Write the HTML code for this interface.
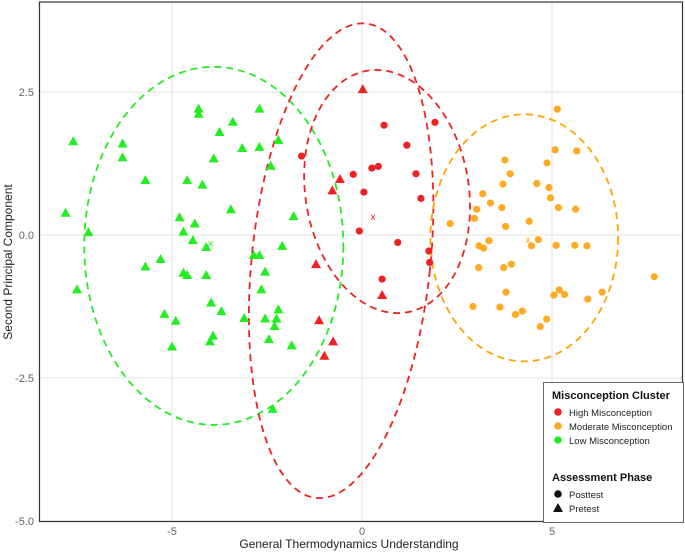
<!DOCTYPE html>
<html><head><meta charset="utf-8"><style>
body{margin:0;background:#fff;font-family:"Liberation Sans",sans-serif}
svg text{font-family:"Liberation Sans",sans-serif}
</style></head><body>
<svg id="chart" width="685" height="552">
<rect x="0" y="0" width="685" height="552" fill="#fff"/>
<g id="grid"></g><g id="ellipses"></g><g id="points"></g><g id="axes"></g>
</svg>
<script>
const xTicks=[-5,0,5];
const yTicks=[2.5,0,-2.5,-5];
const yTickLabels=["2.5","0.0","-2.5","-5.0"];
// green (Low, pretest triangles)
const lowX=[-7.6,-6.3,-6.3,-5.7,-7.8,-7.2,-7.5,-5.7,-5.3,-5.2,-4.9,-5.0,-4.3,-4.3,-3.4,-3.75,-3.15,-2.7,-2.7,-2.2,-3.9,-2.4,-4.6,-4.2,-3.45,-4.8,-4.4,-4.7,-4.45,-4.1,-1.8,-2.1,-2.85,-2.7,-2.55,-4.7,-4.6,-4.1,-2.65,-3.97,-3.7,-3.1,-2.55,-2.25,-2.2,-2.3,-3.92,-4.0,-2.45,-1.85,-2.35];
const lowY=[1.64,1.6,1.36,0.96,0.39,0.05,-0.95,-0.55,-0.42,-1.38,-1.5,-1.95,2.21,2.12,1.98,1.8,1.52,1.54,2.21,1.66,1.34,1.21,0.96,0.88,0.45,0.31,0.2,0.06,-0.09,-0.21,0.33,-0.19,-0.35,-0.35,-0.64,-0.66,-0.7,-0.7,-0.95,-1.18,-1.33,-1.45,-1.46,-1.46,-1.3,-1.59,-1.76,-1.86,-1.82,-1.93,-3.04];
// red (High)
const highPostX=[0.58,1.92,1.18,-1.59,-0.23,0.26,0.43,1.42,0.05,1.55,-0.07,0.94,1.76,1.78,0.53];
const highPostY=[1.92,1.97,1.57,1.38,1.06,1.17,1.2,1.07,0.75,0.64,0.07,-0.13,-0.28,-0.48,-0.77];
const highPreX=[0.02,-0.58,-0.78,-1.21,0.53,-1.13,-0.76,-0.99];
const highPreY=[2.55,0.98,0.78,-0.51,-1.05,-1.49,-1.86,-2.11];
// orange (Moderate posttest)
const modX=[5.14,5.08,5.65,3.76,4.87,3.9,3.71,4.6,4.92,3.18,4.96,3.38,3.02,3.68,5.17,5.62,2.96,2.32,4.4,3.78,3.08,3.2,3.34,4.46,4.64,5.11,5.6,5.92,3.07,3.73,3.93,7.69,3.79,5.05,5.19,5.33,5.94,6.32,2.92,3.63,4.04,4.22,4.86,4.69];
const modY=[2.2,1.49,1.47,1.31,1.26,1.07,0.89,0.9,0.83,0.72,0.65,0.56,0.45,0.48,0.48,0.45,0.29,0.2,0.24,0.15,-0.19,-0.23,-0.1,-0.19,-0.08,-0.18,-0.18,-0.19,-0.57,-0.57,-0.51,-0.73,-1.0,-1.05,-0.96,-1.04,-1.12,-1.0,-1.25,-1.26,-1.39,-1.33,-1.47,-1.6];
// cluster centroids
const centX=[-3.98,0.29,4.37];
const centY=[-0.13,0.33,-0.07];
// confidence ellipses: cx, cy, rx, ry (data units), angle
const ellCX=[-3.9,-0.55,0.66,4.27];
const ellCY=[-0.19,-0.45,0.76,-0.05];
const ellRX=[3.41,2.35,2.15,2.47];
const ellRY=[3.13,4.17,2.14,2.16];
const ellRot=[0,6,-9,0];
const ellCol=["#22ee22","#ee2222","#ee2222","#ffa500"];

const X=v=>362+v*38, Y=v=>235-v*57.2;
const NS="http://www.w3.org/2000/svg";
function mk(t,a,p){const e=document.createElementNS(NS,t);for(const k in a)e.setAttribute(k,a[k]);p.appendChild(e);return e;}
const grid=document.getElementById('grid'),ell=document.getElementById('ellipses'),pts=document.getElementById('points'),ax=document.getElementById('axes');
xTicks.forEach(t=>{const l=mk('line',{x1:X(t),x2:X(t),y1:2,y2:521,stroke:'#e3e3e3','stroke-width':1},grid);


const tx=mk('text',{x:X(t),y:535,'text-anchor':'middle','font-size':11,fill:'#666'},ax);tx.textContent=t===0?'0':(t<0?'-'+Math.abs(t):t);

});
yTicks.forEach((t,i)=>{const l=mk('line',{x1:39,x2:682,y1:Y(t),y2:Y(t),stroke:'#e3e3e3','stroke-width':1},grid);


const tx=mk('text',{x:34,y:Y(t)+4,'text-anchor':'end','font-size':11,fill:'#666'},ax);tx.textContent=yTickLabels[i];

});
ellCX.forEach((c,i)=>{const cx=X(c),cy=Y(ellCY[i]);const e=mk('ellipse',{cx:cx,cy:cy,rx:ellRX[i]*38,ry:ellRY[i]*57.2,fill:'none',stroke:ellCol[i],'stroke-width':1.8,'stroke-dasharray':'7,5',transform:`rotate(${ellRot[i]} ${cx} ${cy})`},ell);

});
function tri(x,y,c){const p=mk('polygon',{points:`${x},${y-5} ${x-5},${y+4} ${x+5},${y+4}`,fill:c},pts);

}
function dot(x,y,c){const p=mk('circle',{cx:x,cy:y,r:3.6,fill:c},pts);

}
lowX.forEach((v,i)=>tri(X(v),Y(lowY[i]),'#22ee22'));
modX.forEach((v,i)=>dot(X(v),Y(modY[i]),'#ffaa22'));
highPostX.forEach((v,i)=>dot(X(v),Y(highPostY[i]),'#ee2222'));
highPreX.forEach((v,i)=>tri(X(v),Y(highPreY[i]),'#ee2222'));
const cc=['#22ee22','#ee2222','#ffa500'];
centX.forEach((v,i)=>{const t=mk('text',{x:X(v),y:Y(centY[i])+4,'text-anchor':'middle','font-size':10,fill:cc[i]},pts);t.textContent='x';

});
const fr=mk('rect',{x:39.5,y:2,width:643,height:519.5,fill:'none',stroke:'#333','stroke-width':1.2},ax);


</script>
<svg style="position:absolute;left:0;top:0" width="685" height="552">
<text x="349" y="548" text-anchor="middle" font-size="12" fill="#222">General Thermodynamics Understanding</text>
<text transform="translate(12,262) rotate(-90)" text-anchor="middle" font-size="12" fill="#222">Second Principal Component</text>
<g>
<rect x="543.5" y="382.5" width="140" height="140" fill="#fff" stroke="#666" stroke-width="1"/>
<text x="552" y="399" font-size="11" font-weight="bold" fill="#111">Misconception Cluster</text>
<circle cx="558" cy="412" r="3.8" fill="#ee2222"/>
<text x="569" y="416" font-size="9.5" fill="#222">High Misconception</text>
<circle cx="558" cy="426" r="3.8" fill="#ffaa22"/>
<text x="569" y="430" font-size="9.5" fill="#222">Moderate Misconception</text>
<circle cx="558" cy="440" r="3.8" fill="#22ee22"/>
<text x="569" y="444" font-size="9.5" fill="#222">Low Misconception</text>
<text x="552" y="481" font-size="11" font-weight="bold" fill="#111">Assessment Phase</text>
<circle cx="558" cy="494" r="3.8" fill="#111"/>
<text x="569" y="498" font-size="9.5" fill="#222">Posttest</text>
<polygon points="558,503 553,512 563,512" fill="#111"/>
<text x="569" y="512" font-size="9.5" fill="#222">Pretest</text>
</g>
</svg>
</body></html>
